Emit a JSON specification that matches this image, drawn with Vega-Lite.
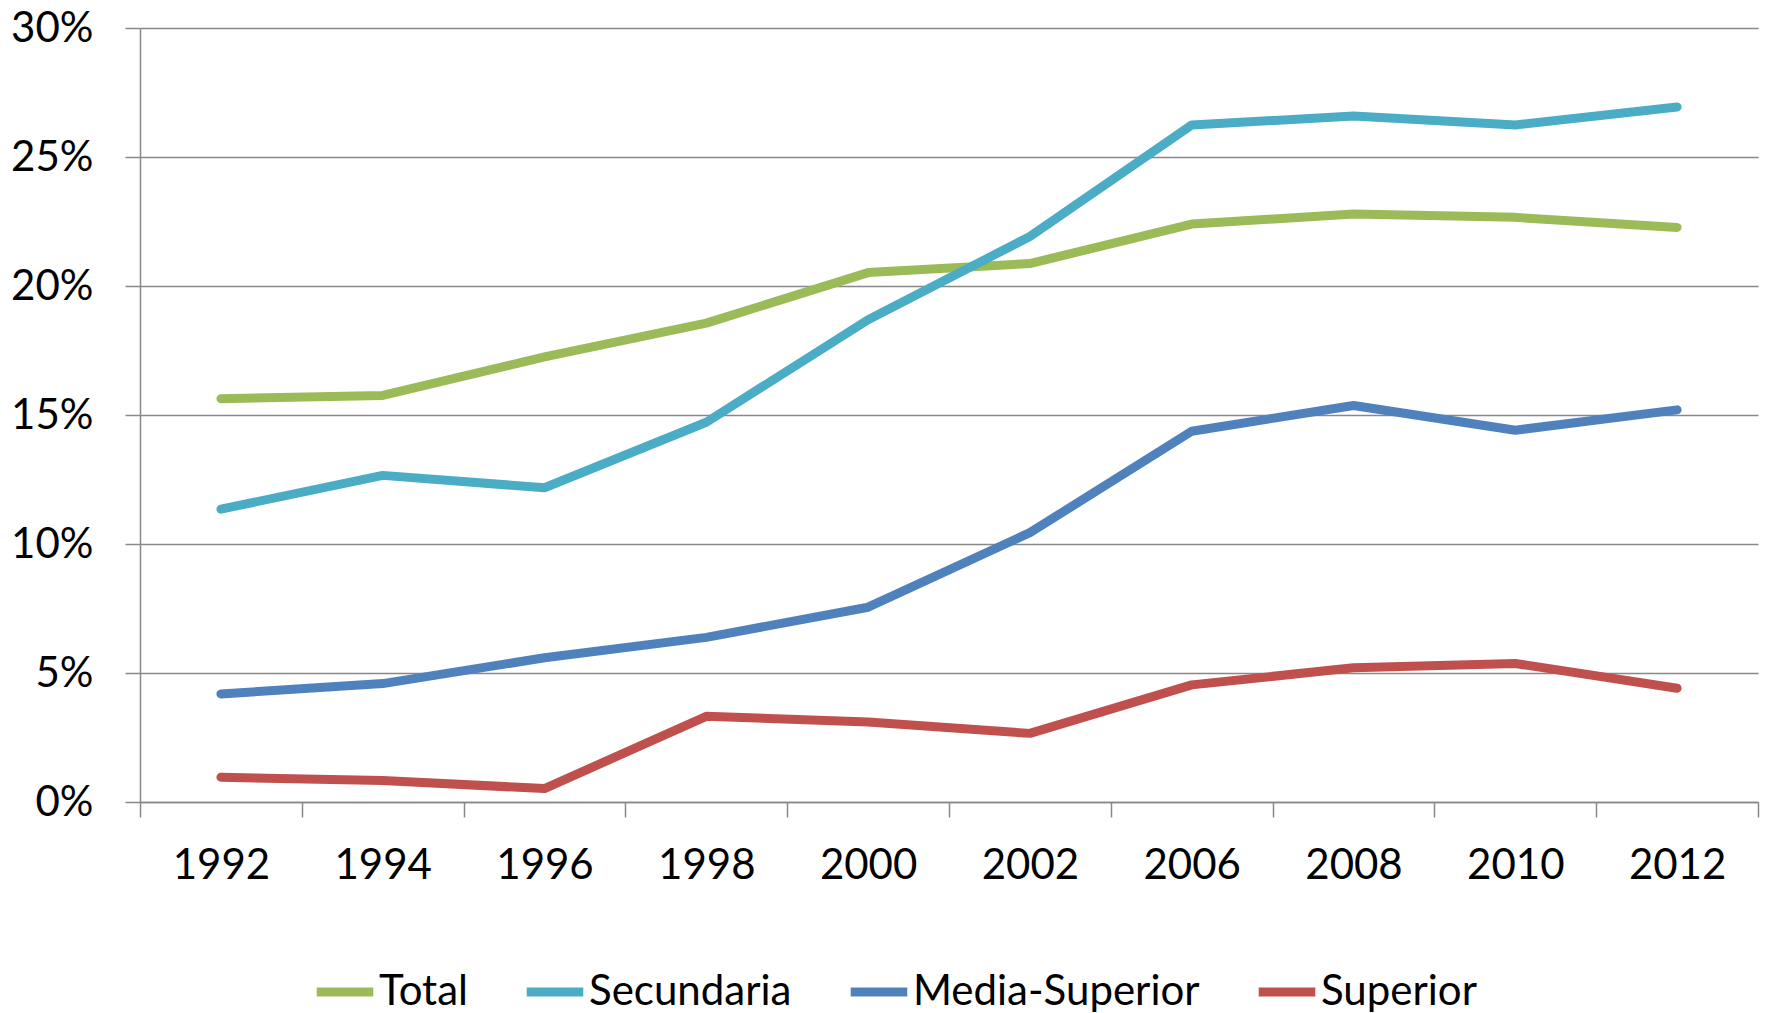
{
  "$schema": "https://vega.github.io/schema/vega-lite/v6.json",
  "width": 1618,
  "height": 774,
  "autosize": {"type": "none"},
  "padding": {"left": 140, "top": 28, "right": 9, "bottom": 211},
  "background": "white",
  "config": {
    "view": {"stroke": null},
    "font": "Lato"
  },
  "data": {
    "values": [
      {"year": "1992", "serie": "Total", "value": 15.63},
      {"year": "1994", "serie": "Total", "value": 15.76},
      {"year": "1996", "serie": "Total", "value": 17.25},
      {"year": "1998", "serie": "Total", "value": 18.56},
      {"year": "2000", "serie": "Total", "value": 20.52},
      {"year": "2002", "serie": "Total", "value": 20.87},
      {"year": "2006", "serie": "Total", "value": 22.40},
      {"year": "2008", "serie": "Total", "value": 22.79},
      {"year": "2010", "serie": "Total", "value": 22.66},
      {"year": "2012", "serie": "Total", "value": 22.27},
      {"year": "1992", "serie": "Secundaria", "value": 11.35},
      {"year": "1994", "serie": "Secundaria", "value": 12.66},
      {"year": "1996", "serie": "Secundaria", "value": 12.18},
      {"year": "1998", "serie": "Secundaria", "value": 14.72},
      {"year": "2000", "serie": "Secundaria", "value": 18.69},
      {"year": "2002", "serie": "Secundaria", "value": 21.92},
      {"year": "2006", "serie": "Secundaria", "value": 26.24},
      {"year": "2008", "serie": "Secundaria", "value": 26.59},
      {"year": "2010", "serie": "Secundaria", "value": 26.24},
      {"year": "2012", "serie": "Secundaria", "value": 26.94},
      {"year": "1992", "serie": "Media-Superior", "value": 4.19},
      {"year": "1994", "serie": "Media-Superior", "value": 4.59},
      {"year": "1996", "serie": "Media-Superior", "value": 5.59},
      {"year": "1998", "serie": "Media-Superior", "value": 6.38},
      {"year": "2000", "serie": "Media-Superior", "value": 7.55},
      {"year": "2002", "serie": "Media-Superior", "value": 10.44},
      {"year": "2006", "serie": "Media-Superior", "value": 14.37},
      {"year": "2008", "serie": "Media-Superior", "value": 15.37},
      {"year": "2010", "serie": "Media-Superior", "value": 14.41},
      {"year": "2012", "serie": "Media-Superior", "value": 15.20},
      {"year": "1992", "serie": "Superior", "value": 0.96},
      {"year": "1994", "serie": "Superior", "value": 0.83},
      {"year": "1996", "serie": "Superior", "value": 0.52},
      {"year": "1998", "serie": "Superior", "value": 3.32},
      {"year": "2000", "serie": "Superior", "value": 3.10},
      {"year": "2002", "serie": "Superior", "value": 2.66},
      {"year": "2006", "serie": "Superior", "value": 4.54},
      {"year": "2008", "serie": "Superior", "value": 5.20},
      {"year": "2010", "serie": "Superior", "value": 5.37},
      {"year": "2012", "serie": "Superior", "value": 4.41}
    ]
  },
  "mark": {"type": "line", "strokeWidth": 9, "strokeCap": "round", "strokeJoin": "round"},
  "encoding": {
    "x": {
      "field": "year",
      "type": "ordinal",
      "bandPosition": 0.5,
      "scale": {"type": "band", "paddingInner": 0, "paddingOuter": 0},
      "axis": {
        "title": null,
        "labelAngle": 0,
        "tickBand": "extent",
        "grid": false,
        "domainColor": "#888888",
        "domainWidth": 1.5,
        "tickColor": "#888888",
        "tickWidth": 1.5,
        "tickSize": 15,
        "labelFontSize": 42,
        "labelColor": "#000000",
        "labelPadding": 28,
        "labelFont": "Lato"
      }
    },
    "y": {
      "field": "value",
      "type": "quantitative",
      "scale": {"domain": [0, 30], "nice": false},
      "axis": {
        "title": null,
        "values": [0, 5, 10, 15, 20, 25, 30],
        "labelExpr": "datum.value + '%'",
        "grid": true,
        "gridColor": "#888888",
        "gridWidth": 1.5,
        "domainColor": "#888888",
        "domainWidth": 1.5,
        "tickColor": "#888888",
        "tickWidth": 1.5,
        "tickSize": 15,
        "labelFontSize": 42,
        "labelColor": "#000000",
        "labelPadding": 32,
        "labelFont": "Lato"
      }
    },
    "color": {
      "field": "serie",
      "type": "nominal",
      "scale": {
        "domain": ["Total", "Secundaria", "Media-Superior", "Superior"],
        "range": ["#9BBB59", "#4BACC6", "#4F81BD", "#C0504D"]
      },
      "legend": {
        "title": null,
        "orient": "none",
        "direction": "horizontal",
        "legendX": 172,
        "legendY": 931,
        "symbolType": "stroke",
        "symbolSize": 3200,
        "symbolStrokeWidth": 9,
        "labelFontSize": 42,
        "labelColor": "#000000",
        "labelFont": "Lato",
        "labelOffset": 1,
        "columnPadding": 40,
        "labelLimit": 400
      }
    }
  }
}
